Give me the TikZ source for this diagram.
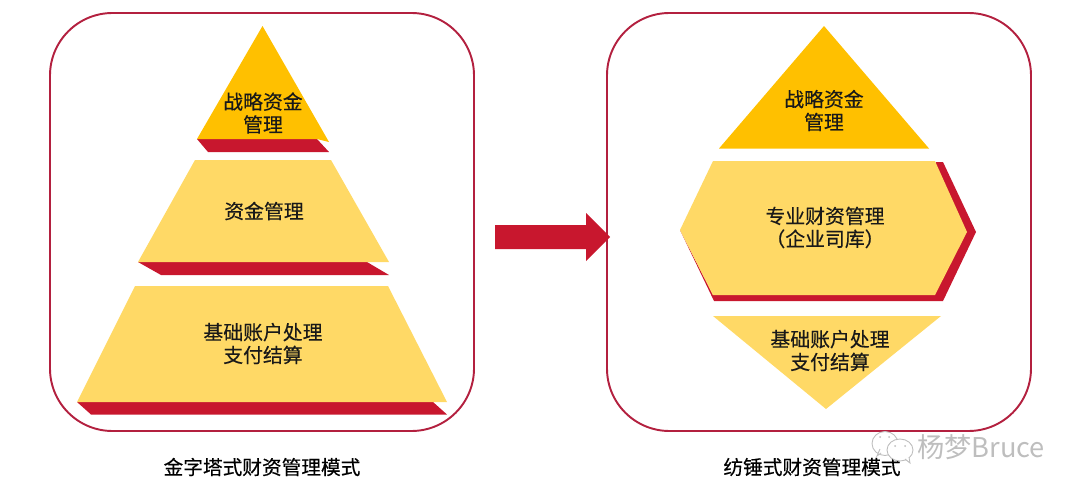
\documentclass[tikz,border=0pt]{standalone}
\usepackage{fontspec}
\setmainfont[FakeBold=0.35]{Noto Sans CJK SC}
\newfontfamily\wmfont{Noto Sans CJK SC}

\definecolor{panelred}{HTML}{B3203F}
\definecolor{barred}{HTML}{C8172E}
\definecolor{darkgold}{HTML}{FFC000}
\definecolor{lightgold}{HTML}{FFD966}
\definecolor{wmgray}{HTML}{BEBEBE}

\tikzset{
    panelbox/.style={draw=panelred, line width=1.1pt, rounded corners=1.25cm},
    txtnode/.style={align=center, text=black!90, font=\fontsize{11.3}{13}\selectfont},
    capnode/.style={align=center, text=black, font=\fontsize{11.2}{13}\selectfont},
    bubble/.style={draw=wmgray, fill=white, line width=0.5pt},
}

\begin{document}
\begin{tikzpicture}[x=0.02cm, y=-0.02cm]
    \useasboundingbox (0,0) rectangle (1080,494);

    % Draw the two panels
    \draw[panelbox] (50,13) rectangle (474,431);
    \draw[panelbox] (607,13) rectangle (1031,431);

    % Draw the red edges of the left stack
    \fill[barred] (197,139) -- (317,139) -- (329,152) -- (208,152) -- cycle;
    \fill[barred] (138,262) -- (367,262) -- (389,275) -- (161,275) -- cycle;
    \fill[barred] (77,402) -- (433,402) -- (447,414.5) -- (91,414.5) -- cycle;

    % Draw the left stack
    \fill[darkgold] (262.5,26) -- (329,142) -- (317,139) -- (197,139) -- cycle;
    \fill[lightgold] (195,160) -- (331,160) -- (389,262) -- (138,262) -- cycle;
    \fill[lightgold] (135,286) -- (388,286) -- (447,402) -- (77,402) -- cycle;

    % Draw the right stack
    \fill[darkgold] (824,26) -- (929,148.5) -- (719,148.5) -- cycle;
    \fill[barred] (936,162) -- (943,162) -- (976,232) -- (943,301) -- (714,301) -- (680,230) -- (713,295) -- (935,295) -- cycle;
    \fill[lightgold] (713,161) -- (935,161) -- (967,232) -- (935,295) -- (713,295) -- (680,230) -- cycle;
    \fill[lightgold] (713,316) -- (941,316) -- (826,409) -- cycle;

    % Draw the arrow between the panels
    \fill[barred] (495,225) -- (586,225) -- (586,213) -- (610,237) -- (586,261) -- (586,249) -- (495,249) -- cycle;

    % Draw the labels of the shapes
    \foreach \name/\x/\y/\txt in {
        lefttop/263/113/战略资金\\管理,
        leftmid/264/211/资金管理,
        leftlow/263/343.5/基础账户处理\\支付结算,
        righttop/824/110.5/战略资金\\管理,
        rightmid/825/227.5/专业财资管理\\（企业司库）,
        rightlow/830/350.5/基础账户处理\\支付结算} {
        \node[txtnode] (\name) at (\x,\y) {\txt};
    }

    % Draw the captions
    \node[capnode] (leftcap) at (262,467) {金字塔式财资管理模式};
    \node[capnode] (rightcap) at (812,467) {纺锤式财资管理模式};

    % Draw the watermark
    \draw[bubble] (885,443.5) ellipse (13 and 12);
    \draw[bubble] (881,453) -- (877,456) -- (880,449);
    \draw[bubble] (900,450) ellipse (13 and 11);
    \draw[bubble] (905,459) -- (910,463) -- (909,457);
    \foreach \x/\y in {880/437, 889/437, 895/446, 905/446} {
        \fill[wmgray] (\x,\y) circle (1);
    }
    \node[text=wmgray, font=\wmfont\fontsize{15.5}{17}\selectfont] (wmark) at (981,447) {杨梦Bruce};
\end{tikzpicture}
\end{document}
